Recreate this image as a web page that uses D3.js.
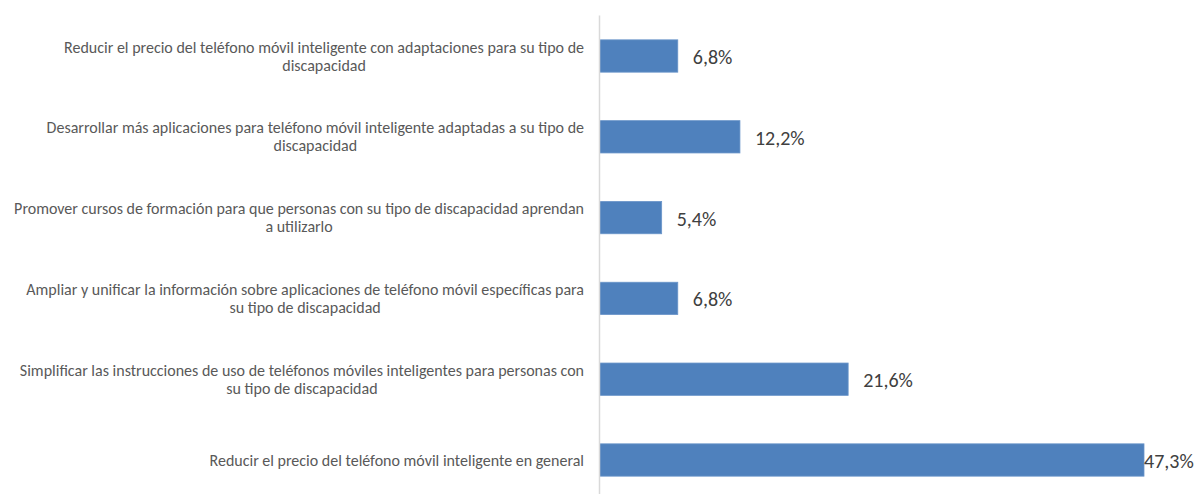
<!DOCTYPE html>
<html><head><meta charset="utf-8">
<script src="https://cdn.jsdelivr.net/npm/d3@7"></script>
<style>
html,body{margin:0;padding:0;background:#fff;}
svg{display:block;}
</style></head>
<body>
<svg id="chart" width="1199" height="494"></svg>
<script>
const categories = [
  "Reducir el precio del teléfono móvil inteligente con adaptaciones para su tipo de\ndiscapacidad",
  "Desarrollar más aplicaciones para teléfono móvil inteligente adaptadas a su tipo de\ndiscapacidad",
  "Promover cursos de formación para que personas con su tipo de discapacidad aprendan\na utilizarlo",
  "Ampliar y unificar la información sobre aplicaciones de teléfono móvil específicas para\nsu tipo de discapacidad",
  "Simplificar las instrucciones de uso de teléfonos móviles inteligentes para personas con\nsu tipo de discapacidad",
  "Reducir el precio del teléfono móvil inteligente en general"
];
const values = [6.8, 12.2, 5.4, 6.8, 21.6, 47.3];
const valueLabels = ["6,8%", "12,2%", "5,4%", "6,8%", "21,6%", "47,3%"];

const svg = d3.select("#chart");
const x0 = 599.5;
const x = d3.scaleLinear().domain([0, 47.3]).range([x0, 1144]);
const y = d3.scaleBand().domain(d3.range(categories.length)).range([15.6, 500.4]).paddingInner(0.6).paddingOuter(0.3);

const font = "Carlito, Calibri, Lato, 'Liberation Sans', sans-serif";

// bars
svg.selectAll("rect.bar").data(values).join("rect")
  .attr("class","bar")
  .attr("x", x(0))
  .attr("y", (d,i)=>y(i))
  .attr("width", d=>x(d)-x(0))
  .attr("height", y.bandwidth())
  .attr("fill", "#4f81bd")
  .attr("stroke", "#6a95c9")
  .attr("stroke-width", 0.8);

// axis line
const axis = d3.axisLeft(y).tickSize(0).tickFormat("");
const ag = svg.append("g").attr("transform", `translate(${x0},0)`).call(axis);
ag.select(".domain").attr("stroke", "#d9d9d9").attr("stroke-width", 1.5)
  .attr("d", "M0,15.6V500.4");

// value labels
svg.selectAll("text.val").data(values).join("text")
  .attr("class","val")
  .attr("x", (d,i)=> i===5 ? x(d) : x(d) + 15)
  .attr("y", (d,i)=> y(i) + y.bandwidth()/2)
  .attr("dy", "0.4em")
  .attr("font-family", font)
  .attr("font-size", 20)
  .attr("fill", "#404040")
  .text((d,i)=>valueLabels[i]);

// category labels
const rightEdge = 584;
categories.forEach((c,i)=>{
  const lines = c.split("\n");
  const g = svg.append("g");
  const cy = y(i) + y.bandwidth()/2;
  const lh = 18;
  const t = g.selectAll("text").data(lines).join("text")
    .attr("font-family", font)
    .attr("font-size", 16)
    .attr("fill", "#595959")
    .attr("text-anchor", "middle")
    .attr("y", (d,k)=> cy + (k - (lines.length-1)/2)*lh)
    .attr("dy", "0.35em")
    .text(d=>d);
  let maxW = 0;
  t.each(function(){ maxW = Math.max(maxW, this.getComputedTextLength()); });
  t.attr("x", rightEdge - maxW/2);
});
</script>
</body></html>
